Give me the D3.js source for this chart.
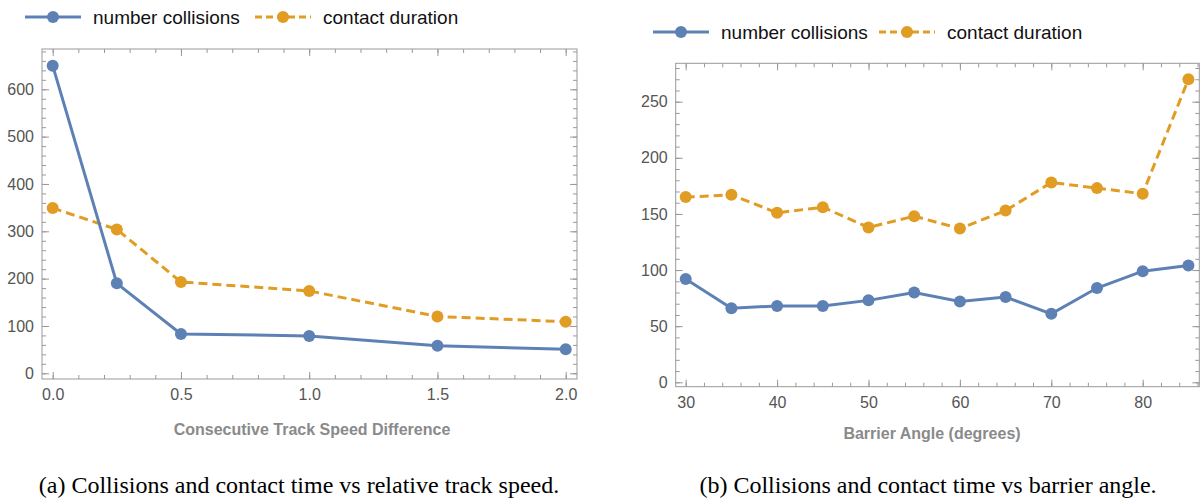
<!DOCTYPE html>
<html>
<head>
	<meta charset="UTF-8">
	<title>collisions vs speed / angle</title>
	<script src="https://cdn.jsdelivr.net/npm/d3@7"></script>
	<style>
		html, body { margin: 0; padding: 0; background: #fff; }
		svg { display: block; }
		.tick text { font: 16px "Liberation Sans", Arial, sans-serif; fill: #555; }
		.axis-title { font: bold 16px "Liberation Sans", Arial, sans-serif; fill: #8a8a8a; }
		.legend text { font: 19px "Liberation Sans", Arial, sans-serif; fill: #111; }
		.caption { font: 24px "Liberation Serif", "Times New Roman", serif; fill: #000; }
	</style>
</head>
<body>
<svg id="chart" width="1202" height="500"></svg>
<script>
	// panel (a): track speed difference
	var speedDiff = [0, 0.25, 0.5, 1.0, 1.5, 2.0];
	var speedCollisions = [650, 190, 83, 79, 58, 51];
	var speedContact = [349, 304, 193, 174, 120, 109];

	// panel (b): barrier angle
	var angles = [30, 35, 40, 45, 50, 55, 60, 65, 70, 75, 80, 85];
	var angleCollisions = [92, 66, 68, 68, 73, 80, 72, 76, 61, 84, 99, 104];
	var angleContact = [165, 167, 151, 156, 138, 148, 137, 153, 178, 173, 168, 270];

	var seriesNames = ["number collisions", "contact duration"];
	var blue = "#5e81b5", orange = "#e19c24";

	var svg = d3.select("#chart");

	function drawPanel(p) {
		var x = d3.scaleLinear().domain(p.xDom).range(p.xRange);
		var y = d3.scaleLinear().domain(p.yDom).range(p.yRange);
		var g = svg.append("g");
		var f = p.frame; // [left, top, right, bottom]

		// ticks point inward, on all four sides
		function ticks(axisFn, pos, vals, len, labels, pad) {
			var horiz = axisFn === d3.axisTop || axisFn === d3.axisBottom;
			var a = axisFn(horiz ? x : y)
				.tickValues(vals).tickSize(-len).tickPadding(pad || 0);
			if (!labels) a.tickFormat("");
			else a.tickFormat(p.fmt && horiz ? p.fmt : d3.format("d"));
			var ax = g.append("g").attr("transform", pos).call(a);
			ax.select(".domain").remove();
			ax.selectAll("line").attr("stroke", "#999");
			return ax;
		}
		var bottom = "translate(0," + f[3] + ")", top = "translate(0," + f[1] + ")";
		var left = "translate(" + f[0] + ",0)", right = "translate(" + f[2] + ",0)";
		ticks(d3.axisBottom, bottom, p.xMinor, 4, false);
		ticks(d3.axisTop, top, p.xMinor, 4, false);
		ticks(d3.axisLeft, left, p.yMinor, 4, false);
		ticks(d3.axisRight, right, p.yMinor, 4, false);
		ticks(d3.axisBottom, bottom, p.xMajor, 7, true, 10);
		ticks(d3.axisTop, top, p.xMajor, 7, false);
		ticks(d3.axisLeft, left, p.yMajor, 7, true, 8);
		ticks(d3.axisRight, right, p.yMajor, 7, false);

		g.append("rect")
			.attr("x", f[0]).attr("y", f[1])
			.attr("width", f[2] - f[0]).attr("height", f[3] - f[1])
			.attr("fill", "none").attr("stroke", "#999");

		var line = d3.line().x(function(d) { return x(d[0]); }).y(function(d) { return y(d[1]); });
		var sets = [
			{ vals: p.s1, color: blue, dash: null },
			{ vals: p.s2, color: orange, dash: "9,5" }
		];
		sets.slice().reverse().forEach(function(s) {
			var pts = p.xs.map(function(v, i) { return [v, s.vals[i]]; });
			g.append("path").datum(pts).attr("d", line)
				.attr("fill", "none").attr("stroke", s.color)
				.attr("stroke-width", 3).attr("stroke-dasharray", s.dash);
			g.selectAll(null).data(pts).enter().append("circle")
				.attr("cx", function(d) { return x(d[0]); })
				.attr("cy", function(d) { return y(d[1]); })
				.attr("r", 6).attr("fill", s.color);
		});

		g.append("text").attr("class", "axis-title")
			.attr("x", p.titleX).attr("y", p.titleY)
			.attr("text-anchor", "middle").text(p.title);

		// legend
		var lg = g.append("g").attr("class", "legend");
		sets.forEach(function(s, i) {
			var lx = p.legend[i], ly = p.legendY;
			lg.append("line").attr("x1", lx).attr("x2", lx + 56)
				.attr("y1", ly).attr("y2", ly)
				.attr("stroke", s.color).attr("stroke-width", 3)
				.attr("stroke-dasharray", s.dash ? "7,4" : null);
			lg.append("circle").attr("cx", lx + 28).attr("cy", ly).attr("r", 6).attr("fill", s.color);
			lg.append("text").attr("x", lx + 68).attr("y", ly).attr("dy", "0.35em").text(seriesNames[i]);
		});

		svg.append("text").attr("class", "caption")
			.attr("x", p.capX).attr("y", 493)
			.attr("text-anchor", "middle").text(p.caption);
	}

	drawPanel({
		xs: speedDiff, s1: speedCollisions, s2: speedContact,
		xDom: [0, 2], xRange: [52.7, 565.7],
		yDom: [0, 600], yRange: [373.3, 89.3],
		frame: [42, 49, 577, 379],
		xMajor: d3.range(0, 2.01, 0.5), xMinor: d3.range(0, 2.05, 0.1),
		yMajor: d3.range(0, 601, 100), yMinor: d3.range(0, 681, 20),
		fmt: d3.format(".1f"),
		title: "Consecutive Track Speed Difference", titleX: 312, titleY: 435,
		legend: [25, 255], legendY: 17,
		caption: "(a) Collisions and contact time vs relative track speed.", capX: 299
	});

	drawPanel({
		xs: angles, s1: angleCollisions, s2: angleContact,
		xDom: [30, 80], xRange: [685.7, 1142.7],
		yDom: [0, 250], yRange: [382.3, 101.7],
		frame: [675.7, 63.3, 1199.3, 386.7],
		xMajor: d3.range(30, 81, 10), xMinor: d3.range(30, 87, 2),
		yMajor: d3.range(0, 251, 50), yMinor: d3.range(0, 281, 10),
		fmt: null,
		title: "Barrier Angle (degrees)", titleX: 932, titleY: 439,
		legend: [653, 879], legendY: 32,
		caption: "(b) Collisions and contact time vs barrier angle.", capX: 928
	});
</script>
</body>
</html>
